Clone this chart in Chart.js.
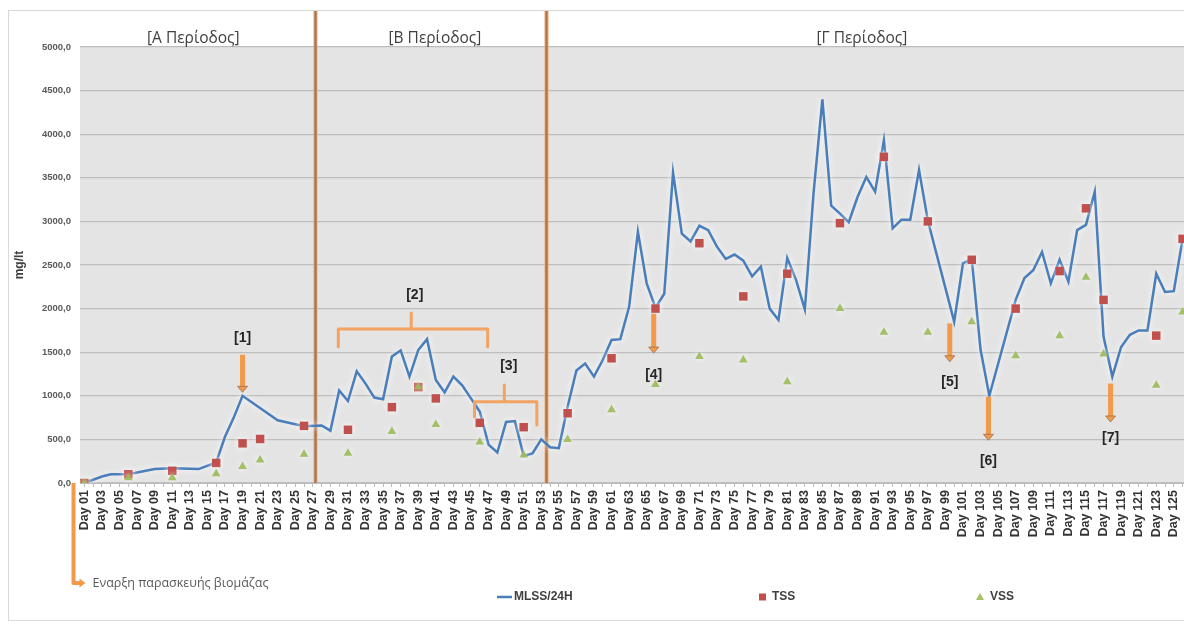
<!DOCTYPE html>
<html>
<head>
<meta charset="utf-8">
<script src="https://cdn.jsdelivr.net/npm/chart.js@4.4.1/dist/chart.umd.min.js"></script>
<style>
  html, body { margin: 0; padding: 0; overflow: hidden; background: #ffffff; width: 1184px; height: 627px; }
  #frame { position: relative; width: 1184px; height: 627px; overflow: hidden; }
  #frame canvas { position: absolute; left: 0; top: 0; display: block; }
</style>
</head>
<body>
<div id="frame"><canvas id="chart" width="1193" height="627"></canvas></div>
<script>
// ---- categories ----
const FIRST_DAY = 1;
const LAST_DAY = 126;
const dayLabels = [];
for (let d = FIRST_DAY; d <= LAST_DAY; d++) dayLabels.push('Day ' + String(d).padStart(2, '0'));

// ---- MLSS / 24H (mg/lt) ----
const mlssDays = [
  1, 3, 4, 6, 9, 11, 14, 16, 17, 18, 19, 23, 26, 28, 29,
  30, 31, 32, 33, 34, 35, 36, 37, 38, 39, 40, 41, 42, 43, 44, 45, 46, 47, 48, 49, 50, 51, 52, 53, 54, 55,
  56, 57, 58, 59, 60, 61, 62, 63, 64, 65, 66, 67, 68, 69, 70, 71, 72, 73, 74, 75, 76, 77, 78, 79, 80,
  81, 82, 83, 84, 85, 86, 87, 88, 89, 90, 91, 92, 93, 94, 95, 96, 97, 100, 101, 102, 103, 104,
  107, 108, 109, 110, 111, 112, 113, 114, 115, 116, 117, 118, 119, 120, 121, 122, 123, 124, 125, 126
];
const mlssValues = [
  0, 75, 100, 100, 160, 170, 160, 235, 530, 750, 1000, 720, 650, 660, 600,
  1060, 940, 1280, 1140, 980, 960, 1450, 1520, 1220, 1525, 1650, 1180, 1040, 1220, 1120, 970, 820, 440, 350, 700, 710, 310, 340, 500, 410, 400,
  875, 1290, 1370, 1220, 1410, 1640, 1650, 2020, 2880, 2290, 2010, 2170, 3560, 2860, 2770, 2950, 2900, 2710, 2570, 2620, 2550, 2370, 2480, 2000, 1870,
  2580, 2330, 1990, 3330, 4400, 3180, 3090, 2990, 3280, 3510, 3340, 3930, 2920, 3020, 3020, 3590, 3010, 1850, 2520, 2570, 1530, 1000,
  2100, 2350, 2440, 2650, 2290, 2560, 2310, 2900, 2960, 3340, 1680, 1220, 1560, 1700, 1750, 1750, 2400, 2190, 2200, 2800
];

// ---- TSS (mg/lt) ----
const tssDays = [1, 6, 11, 16, 19, 21, 26, 31, 36, 39, 41, 46, 51, 56, 61, 66, 71, 76, 81, 87, 92, 97, 102, 107, 112, 115, 117, 123, 126];
const tssValues = [0, 100, 140, 230, 455, 505, 655, 610, 870, 1100, 970, 690, 640, 800, 1430, 2000, 2750, 2140, 2400, 2980, 3740, 3000, 2560, 2000, 2430, 3150, 2100, 1690, 2800];

// ---- VSS (mg/lt) ----
const vssDays = [1, 6, 11, 16, 19, 21, 26, 31, 36, 39, 41, 46, 51, 56, 61, 66, 71, 76, 81, 87, 92, 97, 102, 107, 112, 115, 117, 123, 126];
const vssValues = [0, 60, 60, 105, 190, 265, 330, 340, 590, 1100, 670, 470, 320, 500, 840, 1130, 1450, 1410, 1160, 2000, 1730, 1730, 1850, 1460, 1690, 2360, 1480, 1120, 1960];

// ---- value axis ----
const Y_MIN = 0, Y_MAX = 5000, Y_STEP = 500;

// ---- period headings and boundaries (day numbers) ----
const periodTitles = ['[Α Περίοδος]', '[Β Περίοδος]', '[Γ Περίοδος]'];
const periodTitleDays = [13.4, 40.9, 89.5];
const periodBoundaryDays = [27.3, 53.5];

// ---- event arrows: day, arrow top value, arrow tip value, label value ----
const arrowLabels = ['[1]', '[4]', '[5]', '[6]', '[7]'];
const arrowDays = [19, 65.8, 99.5, 103.9, 117.8];
const arrowFrom = [1470, 1940, 1830, 990, 1140];
const arrowTo = [1040, 1490, 1390, 490, 700];
const arrowLabelAt = [1665, 1240, 1160, 250, 515];

// ---- braces over ranges of days ----
const braceLabels = ['[2]', '[3]'];
const braceStart = [29.9, 45.4];
const braceEnd = [46.9, 52.5];
const braceMid = [38.2, 48.8];
const braceBar = [1766, 932];
const braceFootStart = [1563, 760];
const braceFootEnd = [1563, 665];
const braceTip = [1950, 1124];
const braceLabelDay = [38.6, 49.3];
const braceLabelAt = [2156, 1342];

const startNote = 'Εναρξη παρασκευής βιομάζας';
const legendNames = ['MLSS/24H', 'TSS', 'VSS'];

const COLORS = {
  mlss: '#4a7ebb',
  tss: '#c0504d',
  vss: 'rgba(155,187,89,0.9)',
  orange: '#f29a4a',
  brace: '#f4a261',
  divider: '#ad7650',
  plotBg: '#e4e4e4',
  grid: '#bdbdbd',
  text: '#404040'
};

const toPoints = (days, values) => days.map((d, i) => ({ x: dayLabels[d - FIRST_DAY], y: values[i] }));

const FONT_BOLD = '"Liberation Sans", Arial, sans-serif';
const FONT_GREEK = '"Open Sans", "Liberation Sans", sans-serif';

// plot background + outer frame
const backdrop = {
  id: 'backdrop',
  beforeDraw(chart) {
    const { ctx, chartArea: a } = chart;
    ctx.save();
    ctx.fillStyle = '#ffffff';
    ctx.fillRect(0, 0, chart.width, chart.height);
    ctx.fillStyle = COLORS.plotBg;
    ctx.fillRect(a.left, a.top, a.right - a.left, a.bottom - a.top);
    ctx.strokeStyle = '#d9d9d9';
    ctx.lineWidth = 1;
    ctx.strokeRect(8.5, 10.5, chart.width + 20, 610);
    ctx.restore();
  }
};

// soft light glow round the series marks
const glow = {
  id: 'glow',
  beforeDatasetDraw(chart) {
    const ctx = chart.ctx;
    ctx.save();
    ctx.shadowColor = 'rgba(255,255,255,0.95)';
    ctx.shadowBlur = 6;
  },
  afterDatasetDraw(chart) {
    chart.ctx.restore();
  }
};

// period boundaries and headings
const periods = {
  id: 'periods',
  beforeDatasetsDraw(chart) {
    const { ctx, chartArea: a, scales: { x, y } } = chart;
    ctx.save();
    periodBoundaryDays.forEach(d => {
      const px = Math.round(x.getPixelForValue(d - FIRST_DAY)) + 0.5;
      ctx.strokeStyle = 'rgba(240,180,130,0.6)';
      ctx.lineWidth = 5;
      ctx.beginPath(); ctx.moveTo(px, 11); ctx.lineTo(px, y.getPixelForValue(0)); ctx.stroke();
      ctx.strokeStyle = COLORS.divider;
      ctx.lineWidth = 2.5;
      ctx.beginPath(); ctx.moveTo(px, 11); ctx.lineTo(px, y.getPixelForValue(0)); ctx.stroke();
    });
    ctx.fillStyle = COLORS.text;
    ctx.font = '15.5px ' + FONT_GREEK;
    ctx.textAlign = 'center';
    ctx.textBaseline = 'middle';
    periodTitles.forEach((t, i) => {
      ctx.fillText(t, x.getPixelForValue(periodTitleDays[i] - FIRST_DAY), a.top - 8);
    });
    ctx.restore();
  }
};

function drawDownArrow(ctx, px, yTop, yTip) {
  ctx.save();
  ctx.strokeStyle = COLORS.orange;
  ctx.lineWidth = 5;
  ctx.lineCap = 'butt';
  ctx.beginPath(); ctx.moveTo(px, yTop); ctx.lineTo(px, yTip - 5); ctx.stroke();
  ctx.fillStyle = COLORS.orange;
  ctx.strokeStyle = '#9a7052';
  ctx.lineWidth = 0.8;
  ctx.beginPath();
  ctx.moveTo(px - 5, yTip - 6); ctx.lineTo(px + 5, yTip - 6); ctx.lineTo(px, yTip); ctx.closePath();
  ctx.fill(); ctx.stroke();
  ctx.restore();
}

// event arrows, braces and the start-of-biomass note
const notes = {
  id: 'notes',
  afterDatasetsDraw(chart) {
    const { ctx, scales: { x, y } } = chart;
    const X = d => x.getPixelForValue(d - FIRST_DAY);
    ctx.save();
    ctx.font = 'bold 14px ' + FONT_BOLD;
    ctx.textAlign = 'center';
    ctx.textBaseline = 'middle';

    arrowLabels.forEach((t, i) => {
      const px = X(arrowDays[i]);
      drawDownArrow(ctx, px, y.getPixelForValue(arrowFrom[i]), y.getPixelForValue(arrowTo[i]));
      ctx.fillStyle = '#262626';
      ctx.fillText(t, px, y.getPixelForValue(arrowLabelAt[i]));
    });

    braceLabels.forEach((t, i) => {
      const xl = X(braceStart[i]), xr = X(braceEnd[i]), xm = X(braceMid[i]);
      const yb = y.getPixelForValue(braceBar[i]);
      ctx.strokeStyle = COLORS.brace;
      ctx.lineWidth = 3;
      ctx.lineJoin = 'round';
      ctx.lineCap = 'round';
      ctx.beginPath();
      ctx.moveTo(xl, y.getPixelForValue(braceFootStart[i]));
      ctx.lineTo(xl, yb);
      ctx.lineTo(xr, yb);
      ctx.lineTo(xr, y.getPixelForValue(braceFootEnd[i]));
      ctx.moveTo(xm, yb);
      ctx.lineTo(xm, y.getPixelForValue(braceTip[i]));
      ctx.stroke();
      ctx.fillStyle = '#262626';
      ctx.fillText(t, X(braceLabelDay[i]), y.getPixelForValue(braceLabelAt[i]));
    });

    // start of biomass preparation: bracket from the first day down to the note
    const sx = Math.round(X(FIRST_DAY)) - 10.5;
    const sy0 = y.getPixelForValue(0);
    const sy1 = sy0 + 100;
    ctx.strokeStyle = COLORS.orange;
    ctx.lineWidth = 4;
    ctx.lineCap = 'butt';
    ctx.beginPath();
    ctx.moveTo(sx, sy0); ctx.lineTo(sx, sy1); ctx.lineTo(sx + 7, sy1);
    ctx.stroke();
    ctx.fillStyle = COLORS.orange;
    ctx.beginPath();
    ctx.moveTo(sx + 6, sy1 - 4.5); ctx.lineTo(sx + 6, sy1 + 4.5); ctx.lineTo(sx + 12, sy1); ctx.closePath();
    ctx.fill();
    ctx.fillStyle = '#595959';
    ctx.font = '12.5px ' + FONT_GREEK;
    ctx.textAlign = 'left';
    ctx.fillText(startNote, sx + 19, sy1);
    ctx.restore();
  }
};

// legend row under the axis
const legendRow = {
  id: 'legendRow',
  afterDraw(chart) {
    const ctx = chart.ctx;
    const ds = chart.data.datasets;
    const ly = 597;
    ctx.save();
    ctx.font = 'bold 12px ' + FONT_BOLD;
    ctx.fillStyle = COLORS.text;
    ctx.textBaseline = 'middle';
    ctx.textAlign = 'left';
    // line sample
    ctx.strokeStyle = ds[0].borderColor;
    ctx.lineWidth = 2.5;
    ctx.beginPath(); ctx.moveTo(497, ly); ctx.lineTo(512, ly); ctx.stroke();
    ctx.fillText(legendNames[0], 514, ly);
    // square marker
    ctx.fillStyle = ds[1].backgroundColor;
    ctx.fillRect(759, ly - 3.5, 7, 7);
    ctx.fillStyle = COLORS.text;
    ctx.fillText(legendNames[1], 772, ly);
    // triangle marker
    ctx.fillStyle = ds[2].backgroundColor;
    ctx.beginPath(); ctx.moveTo(980, ly - 4); ctx.lineTo(984, ly + 3); ctx.lineTo(976, ly + 3); ctx.closePath(); ctx.fill();
    ctx.fillStyle = COLORS.text;
    ctx.fillText(legendNames[2], 990, ly);
    ctx.restore();
  }
};

new Chart(document.getElementById('chart'), {
  type: 'line',
  data: {
    labels: dayLabels,
    datasets: [
      {
        label: legendNames[0],
        data: toPoints(mlssDays, mlssValues),
        borderColor: COLORS.mlss,
        backgroundColor: COLORS.mlss,
        borderWidth: 2.5,
        pointRadius: 0,
        tension: 0,
        order: 3
      },
      {
        label: legendNames[1],
        data: toPoints(tssDays, tssValues),
        showLine: false,
        pointStyle: 'rect',
        pointRadius: 6,
        pointBackgroundColor: COLORS.tss,
        pointBorderWidth: 0,
        backgroundColor: COLORS.tss,
        borderColor: COLORS.tss,
        order: 2
      },
      {
        label: legendNames[2],
        data: toPoints(vssDays, vssValues),
        showLine: false,
        pointStyle: 'triangle',
        pointRadius: 5,
        pointBackgroundColor: COLORS.vss,
        pointBorderWidth: 0,
        backgroundColor: COLORS.vss,
        borderColor: COLORS.vss,
        order: 1
      }
    ]
  },
  options: {
    responsive: false,
    animation: false,
    devicePixelRatio: 1,
    layout: { padding: { top: 47, left: 0, right: 0, bottom: 0 } },
    plugins: {
      legend: { display: false },
      tooltip: { enabled: false }
    },
    scales: {
      x: {
        type: 'category',
        offset: true,
        grid: { drawOnChartArea: false, drawTicks: true, tickLength: 4, color: COLORS.grid },
        border: { display: true, color: COLORS.grid, width: 1 },
        ticks: {
          autoSkip: false,
          maxRotation: 90,
          minRotation: 90,
          padding: 3,
          color: '#333333',
          font: { family: FONT_BOLD, size: 12.5, weight: 'bold' },
          callback: (v, i) => (i % 2 === 0 ? dayLabels[i] : '')
        },
        afterFit: s => { s.height = 144; s.paddingLeft = 0; s.paddingRight = 0; }
      },
      y: {
        min: Y_MIN,
        max: Y_MAX,
        grid: { color: COLORS.grid, lineWidth: 1.2, drawTicks: false },
        border: { display: false },
        ticks: {
          stepSize: Y_STEP,
          padding: 9,
          color: '#595959',
          font: { family: FONT_BOLD, size: 9.5, weight: 'bold' },
          callback: v => v.toFixed(1).replace('.', ',')
        },
        title: {
          display: true,
          text: 'mg/lt',
          color: COLORS.text,
          font: { family: FONT_BOLD, size: 12, weight: 'bold' },
          padding: { top: 12, bottom: 0 }
        },
        afterFit: s => { s.width = 80; }
      }
    }
  },
  plugins: [backdrop, glow, periods, notes, legendRow]
});
</script>
</body>
</html>
